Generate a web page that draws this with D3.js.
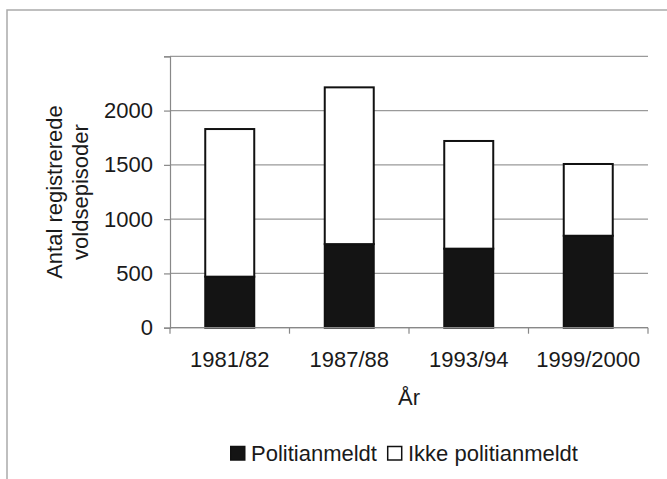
<!DOCTYPE html>
<html>
<head>
<meta charset="utf-8">
<script src="https://cdn.jsdelivr.net/npm/d3@7"></script>
<style>
  html, body { margin: 0; padding: 0; background: #fff; }
  svg text { font-family: "Liberation Sans", Arial, Helvetica, sans-serif; fill: #1a1a1a; }
</style>
</head>
<body>
<svg id="chart" width="667" height="479"></svg>
<script>
const categories = ["1981/82", "1987/88", "1993/94", "1999/2000"];
const politianmeldt = [470, 770, 728, 847];
const ikkePolitianmeldt = [1360, 1444, 992, 661];
const seriesNames = ["Politianmeldt", "Ikke politianmeldt"];
const yTicks = [0, 500, 1000, 1500, 2000, 2500];
const yTickLabels = ["0", "500", "1000", "1500", "2000", ""];
const yTitleLines = ["Antal registrerede", "voldsepisoder"];
const xTitle = "År";

const svg = d3.select("#chart");
const W = 667, H = 479;
const plot = { left: 170, right: 648, top: 56.3, bottom: 327.7 };
const FS = 22;

// frame
svg.append("path")
  .attr("d", `M7,${H} L7,10 L${W},10`)
  .attr("fill", "none").attr("stroke", "#aaa").attr("stroke-width", 1.5);

const rows = categories.map((c, i) => ({ cat: c, Politianmeldt: politianmeldt[i], "Ikke politianmeldt": ikkePolitianmeldt[i] }));
const stack = d3.stack().keys(seriesNames)(rows);

const x = d3.scaleBand().domain(categories).range([plot.left, plot.right])
  .paddingInner(0.59).paddingOuter(0.295);
const y = d3.scaleLinear().domain([0, 2500]).range([plot.bottom, plot.top]);

// gridlines
svg.append("g").selectAll("line").data(yTicks).join("line")
  .attr("x1", plot.left).attr("x2", plot.right)
  .attr("y1", d => y(d)).attr("y2", d => y(d))
  .attr("stroke", "#9a9a9a").attr("stroke-width", 1.2);

// y axis
const yAxis = d3.axisLeft(y).tickValues(yTicks).tickSize(6).tickPadding(11)
  .tickFormat((d, i) => yTickLabels[i]);
const gy = svg.append("g").attr("transform", `translate(${plot.left},0)`).call(yAxis);
gy.select(".domain").attr("stroke", "#888").attr("stroke-width", 1.2);
gy.selectAll(".tick line").attr("stroke", "#888").attr("stroke-width", 1.2);
gy.selectAll(".tick text").style("font-size", FS + "px").attr("fill", "#1a1a1a")
  .style("font-family", '"Liberation Sans", Arial, sans-serif');

// bars
const fills = { "Politianmeldt": "#141414", "Ikke politianmeldt": "#ffffff" };
svg.append("g").selectAll("g").data(stack).join("g")
  .attr("fill", d => fills[d.key])
  .selectAll("rect").data(d => d).join("rect")
  .attr("x", d => x(d.data.cat))
  .attr("width", x.bandwidth())
  .attr("y", d => y(d[1]))
  .attr("height", d => y(d[0]) - y(d[1]))
  .attr("stroke", "#111").attr("stroke-width", 2);

// x axis
const xAxis = d3.axisBottom(x).tickSize(0).tickPadding(24);
const gx = svg.append("g").attr("transform", `translate(0,${plot.bottom})`).call(xAxis);
gx.select(".domain").remove();
gx.selectAll(".tick text").style("font-size", FS + "px").attr("fill", "#1a1a1a")
  .style("font-family", '"Liberation Sans", Arial, sans-serif');
// boundary ticks between categories
const bounds = [plot.left].concat(categories.map(c => x(c) + x.bandwidth() + x.step() * x.paddingInner() / 2));
bounds[bounds.length - 1] = plot.right;
svg.append("g").selectAll("line").data(bounds).join("line")
  .attr("x1", d => d).attr("x2", d => d)
  .attr("y1", plot.bottom).attr("y2", plot.bottom + 6)
  .attr("stroke", "#888").attr("stroke-width", 1.2);
svg.append("line").attr("x1", plot.left).attr("x2", plot.right)
  .attr("y1", plot.bottom).attr("y2", plot.bottom)
  .attr("stroke", "#888").attr("stroke-width", 1.2);

// x title
svg.append("text").attr("x", (plot.left + plot.right) / 2).attr("y", 405)
  .attr("text-anchor", "middle").style("font-size", FS + "px").text(xTitle);

// y title
const yt = svg.append("text")
  .attr("transform", `translate(62,${(plot.top + plot.bottom) / 2}) rotate(-90)`)
  .attr("text-anchor", "middle").style("font-size", FS + "px");
yTitleLines.forEach((t, i) => {
  yt.append("tspan").attr("x", 0).attr("dy", i === 0 ? 0 : 26).text(t);
});

// legend
const legend = svg.append("g");
let lx = 230;
seriesNames.forEach((name, i) => {
  legend.append("rect").attr("x", lx + 0.75).attr("y", 446.5)
    .attr("width", 14).attr("height", 13.5)
    .attr("fill", fills[name]).attr("stroke", "#111").attr("stroke-width", 1.5);
  const t = legend.append("text").attr("x", lx + 21).attr("y", 461)
    .style("font-size", FS + "px").text(name);
  lx = lx + 21 + t.node().getComputedTextLength() + 10;
});
</script>
</body>
</html>
